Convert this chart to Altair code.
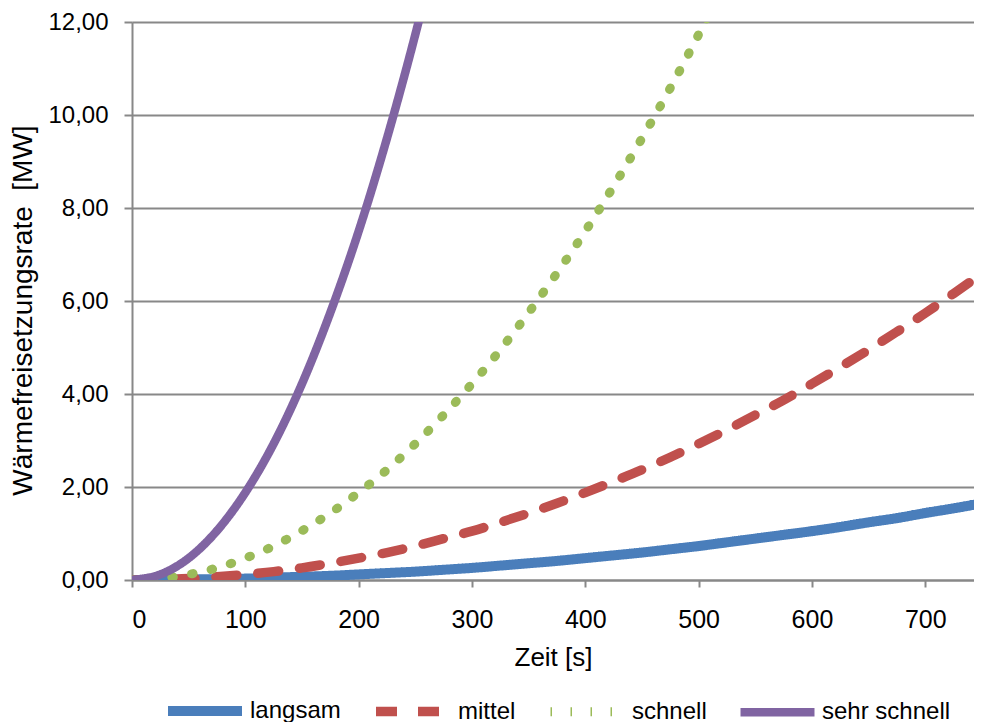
import altair as alt
import pandas as pd

# Zeit [s]
zeit = [0, 25, 50, 75, 100, 125, 150, 175, 200, 225, 250, 275, 300, 325, 350, 375,
        400, 425, 450, 475, 500, 525, 550, 575, 600, 625, 650, 675, 700, 725, 750]

# Wärmefreisetzungsrate [MW]
langsam = [0.00, 0.00, 0.01, 0.02, 0.03, 0.05, 0.07, 0.09, 0.12, 0.15, 0.18, 0.22, 0.26,
           0.31, 0.36, 0.41, 0.47, 0.53, 0.59, 0.66, 0.73, 0.81, 0.89, 0.97, 1.05, 1.14,
           1.24, 1.33, 1.44, 1.54, 1.65]
mittel = [0.00, 0.01, 0.03, 0.07, 0.12, 0.18, 0.26, 0.36, 0.47, 0.59, 0.73, 0.89, 1.05,
          1.24, 1.44, 1.65, 1.88, 2.12, 2.37, 2.64, 2.93, 3.23, 3.55, 3.87, 4.22, 4.58,
          4.95, 5.34, 5.74, 6.16, 6.59]
schnell = [0.00, 0.03, 0.12, 0.26, 0.47, 0.73, 1.06, 1.44, 1.88, 2.37, 2.93, 3.55, 4.22,
           4.95, 5.75, 6.60, 7.50, 8.47, 9.50, 10.58, 11.73, 12.93]
sehr_schnell = [0.00, 0.12, 0.47, 1.06, 1.88, 2.93, 4.22, 5.75, 7.50, 9.50, 11.73, 14.19]

serien = ["langsam", "mittel", "schnell", "sehr schnell"]
farben = ["#4A7EBB", "#C0504D", "#9BBB59", "#8064A2"]
striche = [[1, 0], [21, 21], [1.5, 18.5], [1, 0]]
breiten = [10, 8.5, 8.5, 5]

rows = []
for name, vals in zip(serien, [langsam, mittel, schnell, sehr_schnell]):
    for t, v in zip(zeit, vals):
        rows.append({"Zeit": t, "Wert": v, "Serie": name})
df = pd.DataFrame(rows)

FONT = "Liberation Sans"

x_enc = alt.X("Zeit:Q", scale=alt.Scale(domain=[0, 743], nice=False, zero=True),
              axis=alt.Axis(title="Zeit [s]", values=[0, 100, 200, 300, 400, 500, 600, 700],
                            grid=False, domainColor="#888888", domainWidth=2,
                            tickColor="#888888", tickWidth=2, tickSize=7,
                            labelFont=FONT, labelFontSize=25, labelColor="black",
                            labelPadding=20, titleFont=FONT, titleFontSize=26,
                            titleFontWeight="normal", titleColor="black", titlePadding=12))
y_enc = alt.Y("Wert:Q", scale=alt.Scale(domain=[0, 12], nice=False),
              axis=alt.Axis(title="Wärmefreisetzungsrate \u00a0[MW]", values=[0, 2, 4, 6, 8, 10, 12],
                            labelExpr="replace(format(datum.value, '.2f'), '.', ',')",
                            grid=True, gridColor="#888888", gridWidth=2,
                            domainColor="#888888", domainWidth=2,
                            tickColor="#888888", tickWidth=2, tickSize=8,
                            labelFont=FONT, labelFontSize=24, labelColor="black",
                            labelPadding=16, titleFont=FONT, titleFontSize=28,
                            titleFontWeight="normal", titleColor="black",
                            titleX=-109, titleY=288, titleBaseline="middle", titleAngle=270,
                            titleAlign="center"))

leg = alt.Legend(
    title=None, orient="none", legendX=31, legendY=647, direction="horizontal",
    symbolType="stroke", symbolSize=5476, labelFont=FONT, labelFontSize=24,
    labelColor="black", columnPadding=16, labelOffset=3, padding=0,
)

chart = alt.Chart(df).mark_line(
    strokeCap="round", strokeJoin="round", clip=True, interpolate="monotone"
).encode(
    x=x_enc,
    y=y_enc,
    color=alt.Color("Serie:N", scale=alt.Scale(domain=serien, range=farben), legend=leg),
    strokeDash=alt.StrokeDash("Serie:N", scale=alt.Scale(domain=serien, range=striche), legend=leg),
    strokeWidth=alt.StrokeWidth("Serie:N", scale=alt.Scale(domain=serien, range=breiten), legend=leg),
).properties(
    width=842, height=558,
    autosize=alt.AutoSizeParams(type="none"),
    padding={"left": 124, "top": 14, "right": 0, "bottom": 142},
).configure_view(stroke=None).configure(background="white")

chart.save("out.html", embed_options={"renderer": "svg", "actions": False})
